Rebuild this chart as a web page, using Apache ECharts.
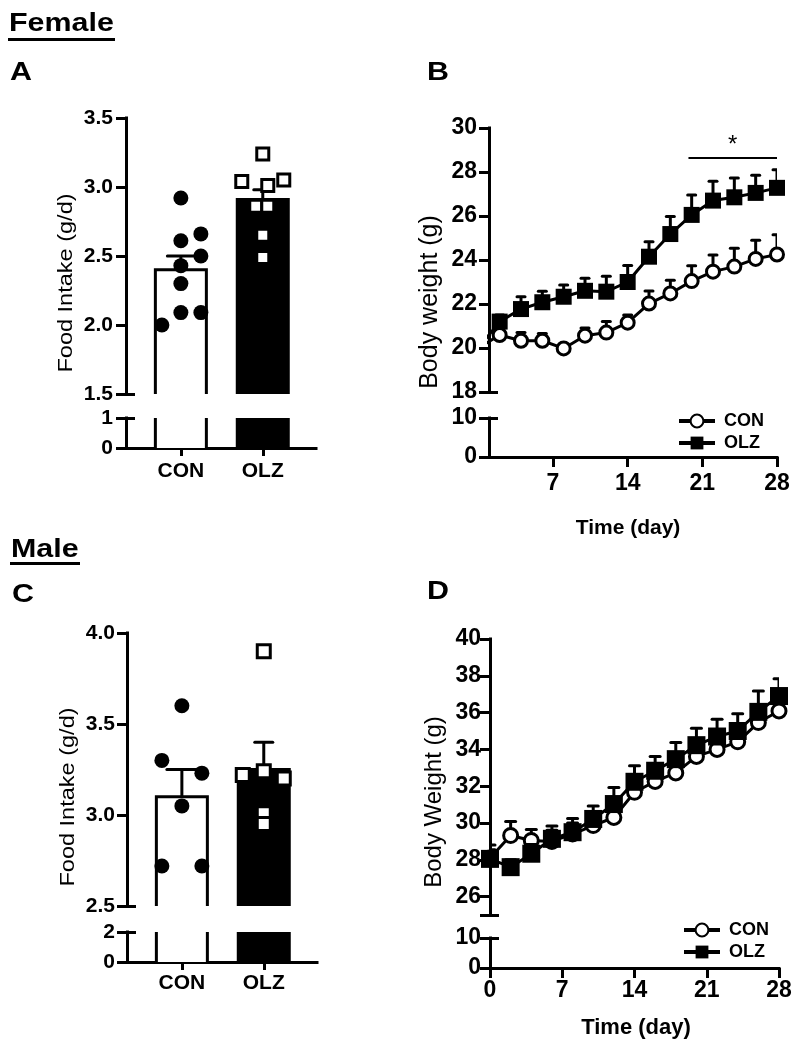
<!DOCTYPE html>
<html><head><meta charset="utf-8">
<script src="https://cdn.jsdelivr.net/npm/echarts@6/dist/echarts.min.js"></script>
<style>html,body{margin:0;padding:0;background:#fff}#c{width:796px;height:1050px}</style>
</head><body><div id="c"></div>
<script>
// ---------------- DATA ----------------
const CATEGORIES = ['CON', 'OLZ'];
// Panel A (female food intake, g/d)
const A_MEAN = [2.40, 2.91];
const A_SEM = [0.10, 0.07];
const A_CON_POINTS = [2.92, 2.61, 2.66, 2.50, 2.43, 2.30, 2.09, 2.09, 2.00];
const A_OLZ_POINTS = [3.24, 3.04, 3.05, 3.01, 2.86, 2.86, 2.65, 2.49];
// Panel C (male food intake, g/d)
const C_MEAN = [3.10, 3.25];
const C_SEM = [0.15, 0.15];
const C_CON_POINTS = [3.60, 3.30, 3.23, 3.05, 2.72, 2.72];
const C_OLZ_POINTS = [3.90, 3.22, 3.24, 3.20, 3.01, 2.95];
// Panel B (female body weight, g)
const DAYS = [0, 2, 4, 6, 8, 10, 12, 14, 16, 18, 20, 22, 24, 26, 28];
const B_CON = [20.0, 20.59, 20.33, 20.33, 19.98, 20.56, 20.70, 21.15, 22.02, 22.48, 23.04, 23.47, 23.70, 24.05, 24.25];
const B_CON_SEM = [0.2, 0.2, 0.38, 0.33, 0.2, 0.35, 0.5, 0.35, 0.57, 0.6, 0.7, 0.76, 0.83, 0.85, 0.9];
const B_OLZ = [20.0, 21.2, 21.77, 22.08, 22.33, 22.6, 22.56, 23.0, 24.15, 25.18, 26.05, 26.7, 26.85, 27.05, 27.28];
const B_OLZ_SEM = [0.2, 0.3, 0.56, 0.5, 0.53, 0.57, 0.7, 0.75, 0.68, 0.8, 0.9, 0.88, 0.88, 0.8, 0.82];
const SIG_RANGE = [19.7, 28];
const SIG_LEVEL = 28.67;
// Panel D (male body weight, g)
const D_CON = [28.1, 29.32, 29.05, 29.0, 29.4, 29.86, 30.3, 31.67, 32.26, 32.72, 33.62, 34.0, 34.41, 35.46, 36.09];
const D_CON_SEM = [0.7, 0.76, 0.6, 0.6, 0.6, 0.6, 0.7, 0.7, 0.8, 0.8, 0.8, 0.8, 0.8, 0.9, 0.9];
const D_OLZ = [28.05, 27.6, 28.33, 29.14, 29.5, 30.22, 31.03, 32.24, 32.84, 33.47, 34.23, 34.7, 35.0, 36.04, 36.9];
const D_OLZ_SEM = [0.5, 0.4, 0.5, 0.7, 0.75, 0.7, 0.9, 0.87, 0.78, 0.9, 0.92, 0.94, 0.94, 1.14, 0.94];
// tick labels
const A_Y_UPPER = [1.5, 3.5, 0.5];
const A_Y_LOWER = [0, 1, 1];
const C_Y_UPPER = [2.5, 4.0, 0.5];
const C_Y_LOWER = [0, 2, 2];
const B_Y_UPPER = [18, 30, 2];
const B_Y_LOWER = [0, 10, 10];
const D_Y_UPPER_LABELS = [26, 28, 30, 32, 34, 36, 38, 40];
const D_Y_RANGE = [25, 40];
const D_Y_LOWER = [0, 10, 10];
const B_X_TICKS = [7, 14, 21, 28];
const D_X_TICKS = [0, 7, 14, 21, 28];

// ---------------- STYLE ----------------
const FONT = '"Liberation Sans", Arial, Helvetica, sans-serif';
const BLACK = '#000';
const BAR_FILL = ['#fff', '#000'];
const A_CON_JITTER = [0, 0, 20, 20, 0, 0, 0, 20, -19];
const A_OLZ_JITTER = [0, -21, 21, 5, -7, 5, 0, 0];
const C_CON_JITTER = [0, -20, 20, 0, -20, 20];
const C_OLZ_JITTER = [0, -21, 0, 20, 0, 0];

const chart = echarts.init(document.getElementById('c'), null, { renderer: 'canvas' });

const grids = [
  { left: 126, top: 118, width: 190, height: 276 }, // A up
  { left: 126, top: 418, width: 190, height: 30 },  // A low
  { left: 489, top: 128, width: 288, height: 264 }, // B up
  { left: 489, top: 418, width: 288, height: 39 },  // B low
  { left: 127, top: 633, width: 190, height: 273 }, // C up
  { left: 127, top: 932, width: 190, height: 30 },  // C low
  { left: 490, top: 639, width: 289, height: 276 }, // D up
  { left: 490, top: 938, width: 289, height: 30 }   // D low
];

function hiddenX(g, min, max) {
  return { type: 'value', gridIndex: g, min, max, show: false, position: 'bottom' };
}
function shownX(g, min, max, ticks, fmt, fontSize, margin, tickLen) {
  return {
    type: 'value', gridIndex: g, min, max, position: 'bottom',
    axisLine: { show: true, onZero: false, lineStyle: { color: BLACK, width: 3, cap: 'square' } },
    axisTick: { show: true, length: tickLen, customValues: ticks, lineStyle: { color: BLACK, width: 3 } },
    axisLabel: { show: true, customValues: ticks, formatter: fmt, color: BLACK, fontFamily: FONT, fontWeight: 'bold', fontSize, margin },
    splitLine: { show: false }
  };
}
function mainY(g, min, max, interval, fontSize, margin, labelVals, tickVals) {
  const ax = {
    type: 'value', gridIndex: g, min, max, interval, position: 'left',
    axisLine: { show: true, onZero: false, lineStyle: { color: BLACK, width: 3, cap: 'square' } },
    axisTick: { show: true, length: 10, lineStyle: { color: BLACK, width: 3 } },
    axisLabel: { show: true, color: BLACK, fontFamily: FONT, fontWeight: 'bold', fontSize, margin,
      formatter: v => (interval < 1 ? v.toFixed(1) : String(v)) },
    splitLine: { show: false }
  };
  if (labelVals) ax.axisLabel.customValues = labelVals;
  if (tickVals) ax.axisTick.customValues = tickVals;
  return ax;
}
function breakY(g, min, max, v) {
  return {
    type: 'value', gridIndex: g, min, max, position: 'left',
    axisLine: { show: false, onZero: false },
    axisTick: { show: true, inside: true, length: 9, customValues: [v], lineStyle: { color: BLACK, width: 3 } },
    axisLabel: { show: false },
    splitLine: { show: false }
  };
}

const catFmt = v => CATEGORIES[Math.round(v) - 1] || '';

const xAxis = [
  hiddenX(0, 0.33, 2.65),
  shownX(1, 0.33, 2.65, [1, 2], catFmt, 21, 13, 8),
  hiddenX(2, 1, 28),
  shownX(3, 1, 28, B_X_TICKS, v => String(v), 23, 15, 10),
  hiddenX(4, 0.33, 2.65),
  shownX(5, 0.33, 2.65, [1, 2], catFmt, 21, 11, 8),
  hiddenX(6, 0, 28),
  shownX(7, 0, 28, D_X_TICKS, v => String(v), 23, 11, 10)
];

const D_TICKS = [D_Y_RANGE[0]].concat(D_Y_UPPER_LABELS);
const yAxis = [
  mainY(0, A_Y_UPPER[0], A_Y_UPPER[1], A_Y_UPPER[2], 21, 13),
  mainY(1, A_Y_LOWER[0], A_Y_LOWER[1], A_Y_LOWER[2], 21, 13),
  mainY(2, B_Y_UPPER[0], B_Y_UPPER[1], B_Y_UPPER[2], 23, 12),
  mainY(3, B_Y_LOWER[0], B_Y_LOWER[1], B_Y_LOWER[2], 23, 12),
  mainY(4, C_Y_UPPER[0], C_Y_UPPER[1], C_Y_UPPER[2], 21, 12),
  mainY(5, C_Y_LOWER[0], C_Y_LOWER[1], C_Y_LOWER[2], 21, 12),
  mainY(6, D_Y_RANGE[0], D_Y_RANGE[1], 1, 23, 9, D_Y_UPPER_LABELS, D_TICKS),
  mainY(7, D_Y_LOWER[0], D_Y_LOWER[1], D_Y_LOWER[2], 23, 9),
  breakY(0, A_Y_UPPER[0], A_Y_UPPER[1], A_Y_UPPER[0]),
  breakY(1, A_Y_LOWER[0], A_Y_LOWER[1], A_Y_LOWER[1]),
  breakY(2, B_Y_UPPER[0], B_Y_UPPER[1], B_Y_UPPER[0]),
  breakY(3, B_Y_LOWER[0], B_Y_LOWER[1], B_Y_LOWER[1]),
  breakY(4, C_Y_UPPER[0], C_Y_UPPER[1], C_Y_UPPER[0]),
  breakY(5, C_Y_LOWER[0], C_Y_LOWER[1], C_Y_LOWER[1]),
  breakY(6, D_Y_RANGE[0], D_Y_RANGE[1], D_Y_RANGE[0]),
  breakY(7, D_Y_LOWER[0], D_Y_LOWER[1], D_Y_LOWER[1])
];

// open-ended bar (broken axis style) drawn from the axis scale
function barSeries(ai, means, halfW) {
  return {
    type: 'custom', xAxisIndex: ai, yAxisIndex: ai, z: 2, silent: true, clip: false,
    data: means.map((v, i) => [i + 1, v, i]),
    encode: { x: 0, y: 1 },
    renderItem(params, api) {
      const cs = params.coordSys;
      const c = api.coord([api.value(0), api.value(1)]);
      const fill = BAR_FILL[api.value(2)];
      const bottom = cs.y + cs.height;
      const capped = c[1] >= cs.y;
      const top = Math.max(c[1], cs.y);
      const l = c[0] - halfW, r = c[0] + halfW;
      const children = [
        { type: 'rect', shape: { x: l, y: top, width: r - l, height: bottom - top }, style: { fill } }
      ];
      if (capped) {
        children.push({ type: 'polyline', shape: { points: [[l, bottom], [l, top], [r, top], [r, bottom]] },
          style: { stroke: BLACK, lineWidth: 3, fill: null, lineJoin: 'miter' } });
      } else {
        children.push({ type: 'line', shape: { x1: l, y1: top, x2: l, y2: bottom }, style: { stroke: BLACK, lineWidth: 3 } });
        children.push({ type: 'line', shape: { x1: r, y1: top, x2: r, y2: bottom }, style: { stroke: BLACK, lineWidth: 3 } });
      }
      return { type: 'group', children };
    }
  };
}
function errSeries(ai, xs, ys, errs, capHalf, z, clip) {
  return {
    type: 'custom', xAxisIndex: ai, yAxisIndex: ai, z, silent: true, clip: !!clip,
    data: ys.map((v, i) => [xs[i], v, errs[i], i]),
    encode: { x: 0, y: 1 },
    renderItem(params, api) {
      const x = api.value(0), y = api.value(1), e = api.value(2);
      const hw = Array.isArray(capHalf) ? capHalf[api.value(3)] : capHalf;
      const p0 = api.coord([x, y]), p1 = api.coord([x, y + e]);
      return { type: 'group', children: [
        { type: 'line', shape: { x1: p0[0], y1: p0[1], x2: p1[0], y2: p1[1] }, style: { stroke: BLACK, lineWidth: 3 } },
        { type: 'line', shape: { x1: p1[0] - hw, y1: p1[1], x2: p1[0] + hw, y2: p1[1] }, style: { stroke: BLACK, lineWidth: 3, lineCap: 'round' } }
      ] };
    }
  };
}
function dots(ai, x, vals, jitter, symbol, size, filled) {
  return {
    type: 'scatter', xAxisIndex: ai, yAxisIndex: ai, z: 5, silent: true,
    data: vals.map((v, i) => ({ value: [x, v], symbolOffset: [jitter[i], 0] })),
    symbol, symbolSize: size,
    itemStyle: filled ? { color: BLACK, opacity: 1 } : { color: '#fff', borderColor: BLACK, borderWidth: 3, opacity: 1 }
  };
}
function lineSeries(name, ai, ys, symbol, size, filled, z) {
  return {
    type: 'line', name, xAxisIndex: ai, yAxisIndex: ai, z, silent: true, clip: true,
    data: DAYS.map((d, i) => [d, ys[i]]),
    symbol, symbolSize: size, showSymbol: true, showAllSymbol: true,
    lineStyle: { color: BLACK, width: 3 },
    itemStyle: filled ? { color: BLACK, borderColor: BLACK, borderWidth: 0, opacity: 1 } : { color: '#fff', borderColor: BLACK, borderWidth: 3, opacity: 1 }
  };
}

const series = [
  // A
  barSeries(0, A_MEAN, 25.5),
  barSeries(1, A_MEAN, 25.5),
  errSeries(0, [1, 2], A_MEAN, A_SEM, [13.5, 9], 3, false),
  dots(0, 1, A_CON_POINTS, A_CON_JITTER, 'circle', 15, true),
  dots(0, 2, A_OLZ_POINTS, A_OLZ_JITTER, 'rect', 12, false),
  // C
  barSeries(4, C_MEAN, 25.5),
  barSeries(5, C_MEAN, 25.5),
  errSeries(4, [1, 2], C_MEAN, C_SEM, [15, 9], 3, false),
  dots(4, 1, C_CON_POINTS, C_CON_JITTER, 'circle', 15, true),
  dots(4, 2, C_OLZ_POINTS, C_OLZ_JITTER, 'rect', 13, false),
  // B
  errSeries(2, DAYS, B_CON, B_CON_SEM, 4, 2, true),
  lineSeries('CON', 2, B_CON, 'circle', 13, false, 3),
  errSeries(2, DAYS, B_OLZ, B_OLZ_SEM, 4, 4, true),
  Object.assign(lineSeries('OLZ', 2, B_OLZ, 'rect', 16, true, 5), {
    markLine: {
      silent: true, symbol: 'none', animation: false,
      lineStyle: { color: BLACK, width: 2, type: 'solid' },
      label: { show: true, position: 'middle', formatter: '*', color: BLACK, fontFamily: FONT, fontSize: 24, distance: 0 },
      data: [[{ coord: [SIG_RANGE[0], SIG_LEVEL] }, { coord: [SIG_RANGE[1], SIG_LEVEL] }]]
    }
  }),
  // D
  errSeries(6, DAYS, D_CON, D_CON_SEM, 5, 2, true),
  lineSeries('CON', 6, D_CON, 'circle', 14, false, 3),
  errSeries(6, DAYS, D_OLZ, D_OLZ_SEM, 5, 4, true),
  lineSeries('OLZ', 6, D_OLZ, 'rect', 18, true, 5)
];

function legend(left, top) {
  return {
    data: ['CON', 'OLZ'], left, top, orient: 'vertical', selectedMode: false,
    itemWidth: 36, itemHeight: 16, itemGap: 4,
    lineStyle: { width: 4, color: BLACK },
    textStyle: { color: BLACK, fontFamily: FONT, fontWeight: 'bold', fontSize: 18, padding: [0, 0, 0, 4] }
  };
}

function txt(x, y, text, size, weight, opts) {
  return Object.assign({
    type: 'text', x, y, silent: true,
    style: { text, fill: BLACK, font: `${weight} ${size}px ${FONT}`, textAlign: 'left', textVerticalAlign: 'middle' }
  }, opts || {});
}
function vtitle(cx, cy, text, size, sx) {
  return {
    type: 'text', x: cx, y: cy, rotation: Math.PI / 2, scaleX: sx, silent: true,
    style: { text, fill: BLACK, font: `normal ${size}px ${FONT}`, textAlign: 'center', textVerticalAlign: 'middle' }
  };
}
const graphic = [
  txt(9, 24, 'Female', 26, 'bold', { scaleX: 1.17 }),
  { type: 'line', silent: true, shape: { x1: 8, y1: 39.5, x2: 115, y2: 39.5 }, style: { stroke: BLACK, lineWidth: 3 } },
  txt(10, 72.5, 'A', 26, 'bold', { scaleX: 1.17 }),
  txt(427, 72.5, 'B', 26, 'bold', { scaleX: 1.17 }),
  txt(11, 550, 'Male', 26, 'bold', { scaleX: 1.17 }),
  { type: 'line', silent: true, shape: { x1: 10, y1: 563.5, x2: 80, y2: 563.5 }, style: { stroke: BLACK, lineWidth: 3 } },
  txt(12, 595, 'C', 26, 'bold', { scaleX: 1.17 }),
  txt(427, 591.5, 'D', 26, 'bold', { scaleX: 1.17 }),
  vtitle(66, 283, 'Food Intake (g/d)', 21, 1.12),
  vtitle(68, 797, 'Food Intake (g/d)', 21, 1.12),
  vtitle(430, 302, 'Body weight (g)', 25, 1.0),
  vtitle(434, 802, 'Body Weight (g)', 24, 1.0),
  { type: 'text', x: 628, y: 528, silent: true, style: { text: 'Time (day)', fill: BLACK, font: `bold 21px ${FONT}`, textAlign: 'center', textVerticalAlign: 'middle' } },
  { type: 'text', x: 636, y: 1028, silent: true, style: { text: 'Time (day)', fill: BLACK, font: `bold 22px ${FONT}`, textAlign: 'center', textVerticalAlign: 'middle' } }
];

chart.setOption({
  backgroundColor: '#fff',
  animation: false,
  grid: grids,
  xAxis, yAxis, series,
  legend: [legend(672, 407), legend(677, 916)],
  graphic
});
</script></body></html>
